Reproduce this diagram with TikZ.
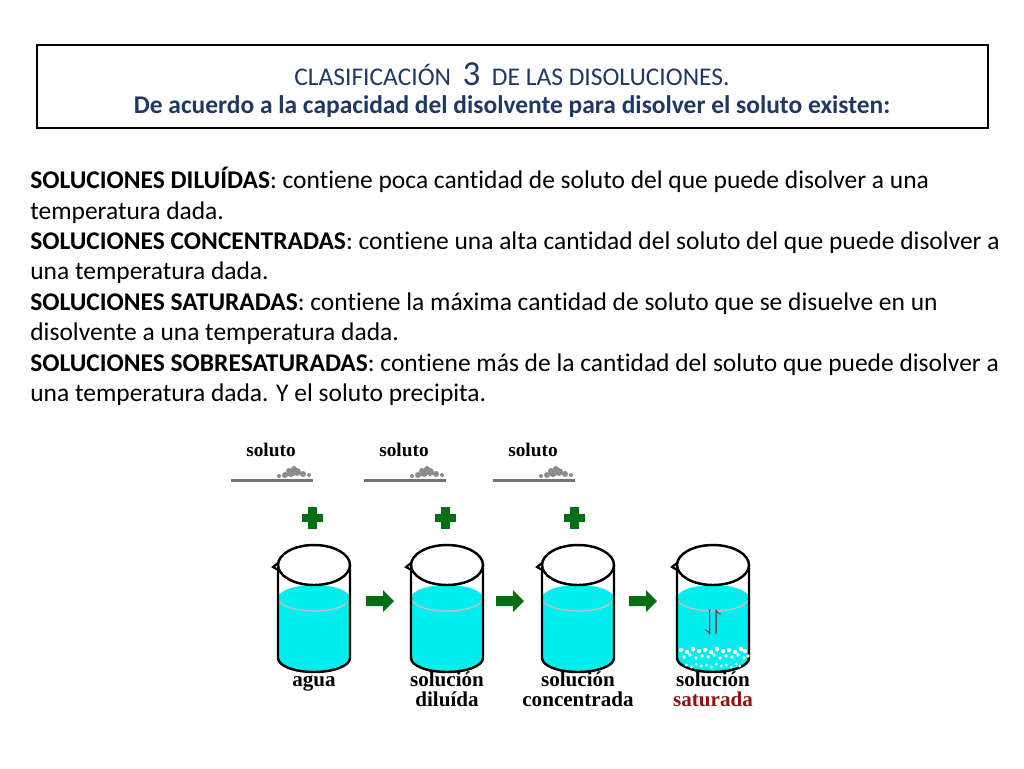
\documentclass[tikz,border=0pt]{standalone}
\usepackage{fontspec}
\setmainfont[Ligatures={NoCommon}]{Carlito}
\newfontfamily\labelfont{Liberation Serif}
\usepackage{amssymb}
\usepackage{xcolor}
\definecolor{titleblue}{RGB}{31,56,100}
\definecolor{water}{RGB}{0,238,238}
\definecolor{plusgreen}{RGB}{0,110,20}
\definecolor{satred}{RGB}{140,20,20}
\tikzset{
  beakerlabel/.style = {font=\labelfont\bfseries\fontsize{12}{11.5}\selectfont, align=center, anchor=north, inner sep=1pt},
  plusmark/.style = {fill=plusgreen},
}

\begin{document}
\begin{tikzpicture}[x=0.02cm, y=-0.02cm]
\useasboundingbox[fill=white] (0, 0) rectangle (1024, 768);
\draw[line width=.6pt] (37, 45) rectangle (988, 128);
\node[text=titleblue, font=\fontsize{14.5}{16}\selectfont] (t1) at (512, 74)
  {CLASIFICACIÓN \ {\fontsize{20}{20}\selectfont 3}\ \ DE LAS DISOLUCIONES.};
\node[text=titleblue, font=\bfseries\fontsize{14.5}{16}\selectfont] (t2) at (512, 107)
  {De acuerdo a la capacidad del disolvente para disolver el soluto existen:};
\node[anchor=north west, align=left, inner sep=0, font=\fontsize{14.5}{17.3}\selectfont] (body) at (30, 167)
  {\textbf{SOLUCIONES DILUÍDAS}: contiene poca cantidad de soluto del que puede disolver a una\\
   temperatura dada.\\
   \textbf{SOLUCIONES CONCENTRADAS}: contiene una alta cantidad del soluto del que puede disolver a\\
   una temperatura dada.\\
   \textbf{SOLUCIONES SATURADAS}: contiene la máxima cantidad de soluto que se disuelve en un\\
   disolvente a una temperatura dada.\\
   \textbf{SOLUCIONES SOBRESATURADAS}: contiene más de la cantidad del soluto que puede disolver a\\
   una temperatura dada. Y el soluto precipita.};
% beakers
\foreach \bx/\name in {314/agua, 447/dil, 578/conc, 713/sat} {
  \fill[water] (\bx-36, 598) -- (\bx-36, 658) arc[start angle=180, end angle=0, x radius=36, y radius=14]
    -- (\bx+36, 598) arc[start angle=0, end angle=-180, x radius=36, y radius=13] -- cycle;
  \draw[black!25, line width=.8pt] (\bx-36, 598) arc[start angle=180, end angle=0, x radius=36, y radius=13];
  \draw[line width=1.4pt] (\bx-36, 565) -- (\bx-36, 658)
    arc[start angle=180, end angle=0, x radius=36, y radius=14] -- (\bx+36, 565);
  \draw[line width=1.4pt] (\bx, 565) ellipse[x radius=36, y radius=20];
  \draw[line width=1.2pt] (\bx-36, 563) -- (\bx-41, 567) -- (\bx-34, 571);
  \coordinate (beaker-\name) at (\bx, 670);
}
% solute trays, plus signs
\foreach \sx [count=\i] in {271, 404, 533} {
  \node[font=\labelfont\bfseries\fontsize{11}{12}\selectfont] (soluto\i) at (\sx, 450) {soluto};
  \fill[black!55] (\sx-40, 479) rectangle (\sx+42, 482);
  \foreach \dx/\dy/\r in {0/-4/4, 6/-5/4, 12/-3/3, -6/-2/3, 18/-2/2, -12/-1/2, 3/-8/3, -2/-6/3}
    \fill[black!45] (\sx+20+\dx, 477+\dy) circle (\r);
  \fill[plusmark] (\sx+37, 507) rectangle (\sx+46, 529);
  \fill[plusmark] (\sx+31, 514) rectangle (\sx+52, 522);
}
% green arrows
\foreach \ax in {380, 510, 643}
  \fill[plusgreen] (\ax-14, 596) -- (\ax+3, 596) -- (\ax+3, 590) -- (\ax+14, 601)
    -- (\ax+3, 612) -- (\ax+3, 606) -- (\ax-14, 606) -- cycle;
% saturated: crystals and equilibrium arrows
\foreach \cx/\dy in {-32/0,-26/2,-20/-1,-14/1,-8/0,-2/2,4/-1,10/1,16/0,22/2,28/-1,32/1} {
  \fill[white] (713+\cx, 650+\dy) circle (2.2);
  \fill[white] (713+\cx+3, 657-\dy) circle (1.8);
  \fill[white] (713+\cx/1.2, 665+\dy) circle (1.6);
}
\node[text=satred, font=\bfseries\fontsize{16}{16}\selectfont] (eq) at (713, 622) {$\downharpoonleft\!\upharpoonright$};
% labels
\node[beakerlabel] (lagua) at (beaker-agua) {agua\vphantom{ó}};
\node[beakerlabel] (ldil) at (beaker-dil) {solución\\diluída};
\node[beakerlabel] (lconc) at (beaker-conc) {solución\\concentrada};
\node[beakerlabel] (lsat) at (beaker-sat) {solución\\\textcolor{satred}{saturada}};
\end{tikzpicture}
\end{document}
